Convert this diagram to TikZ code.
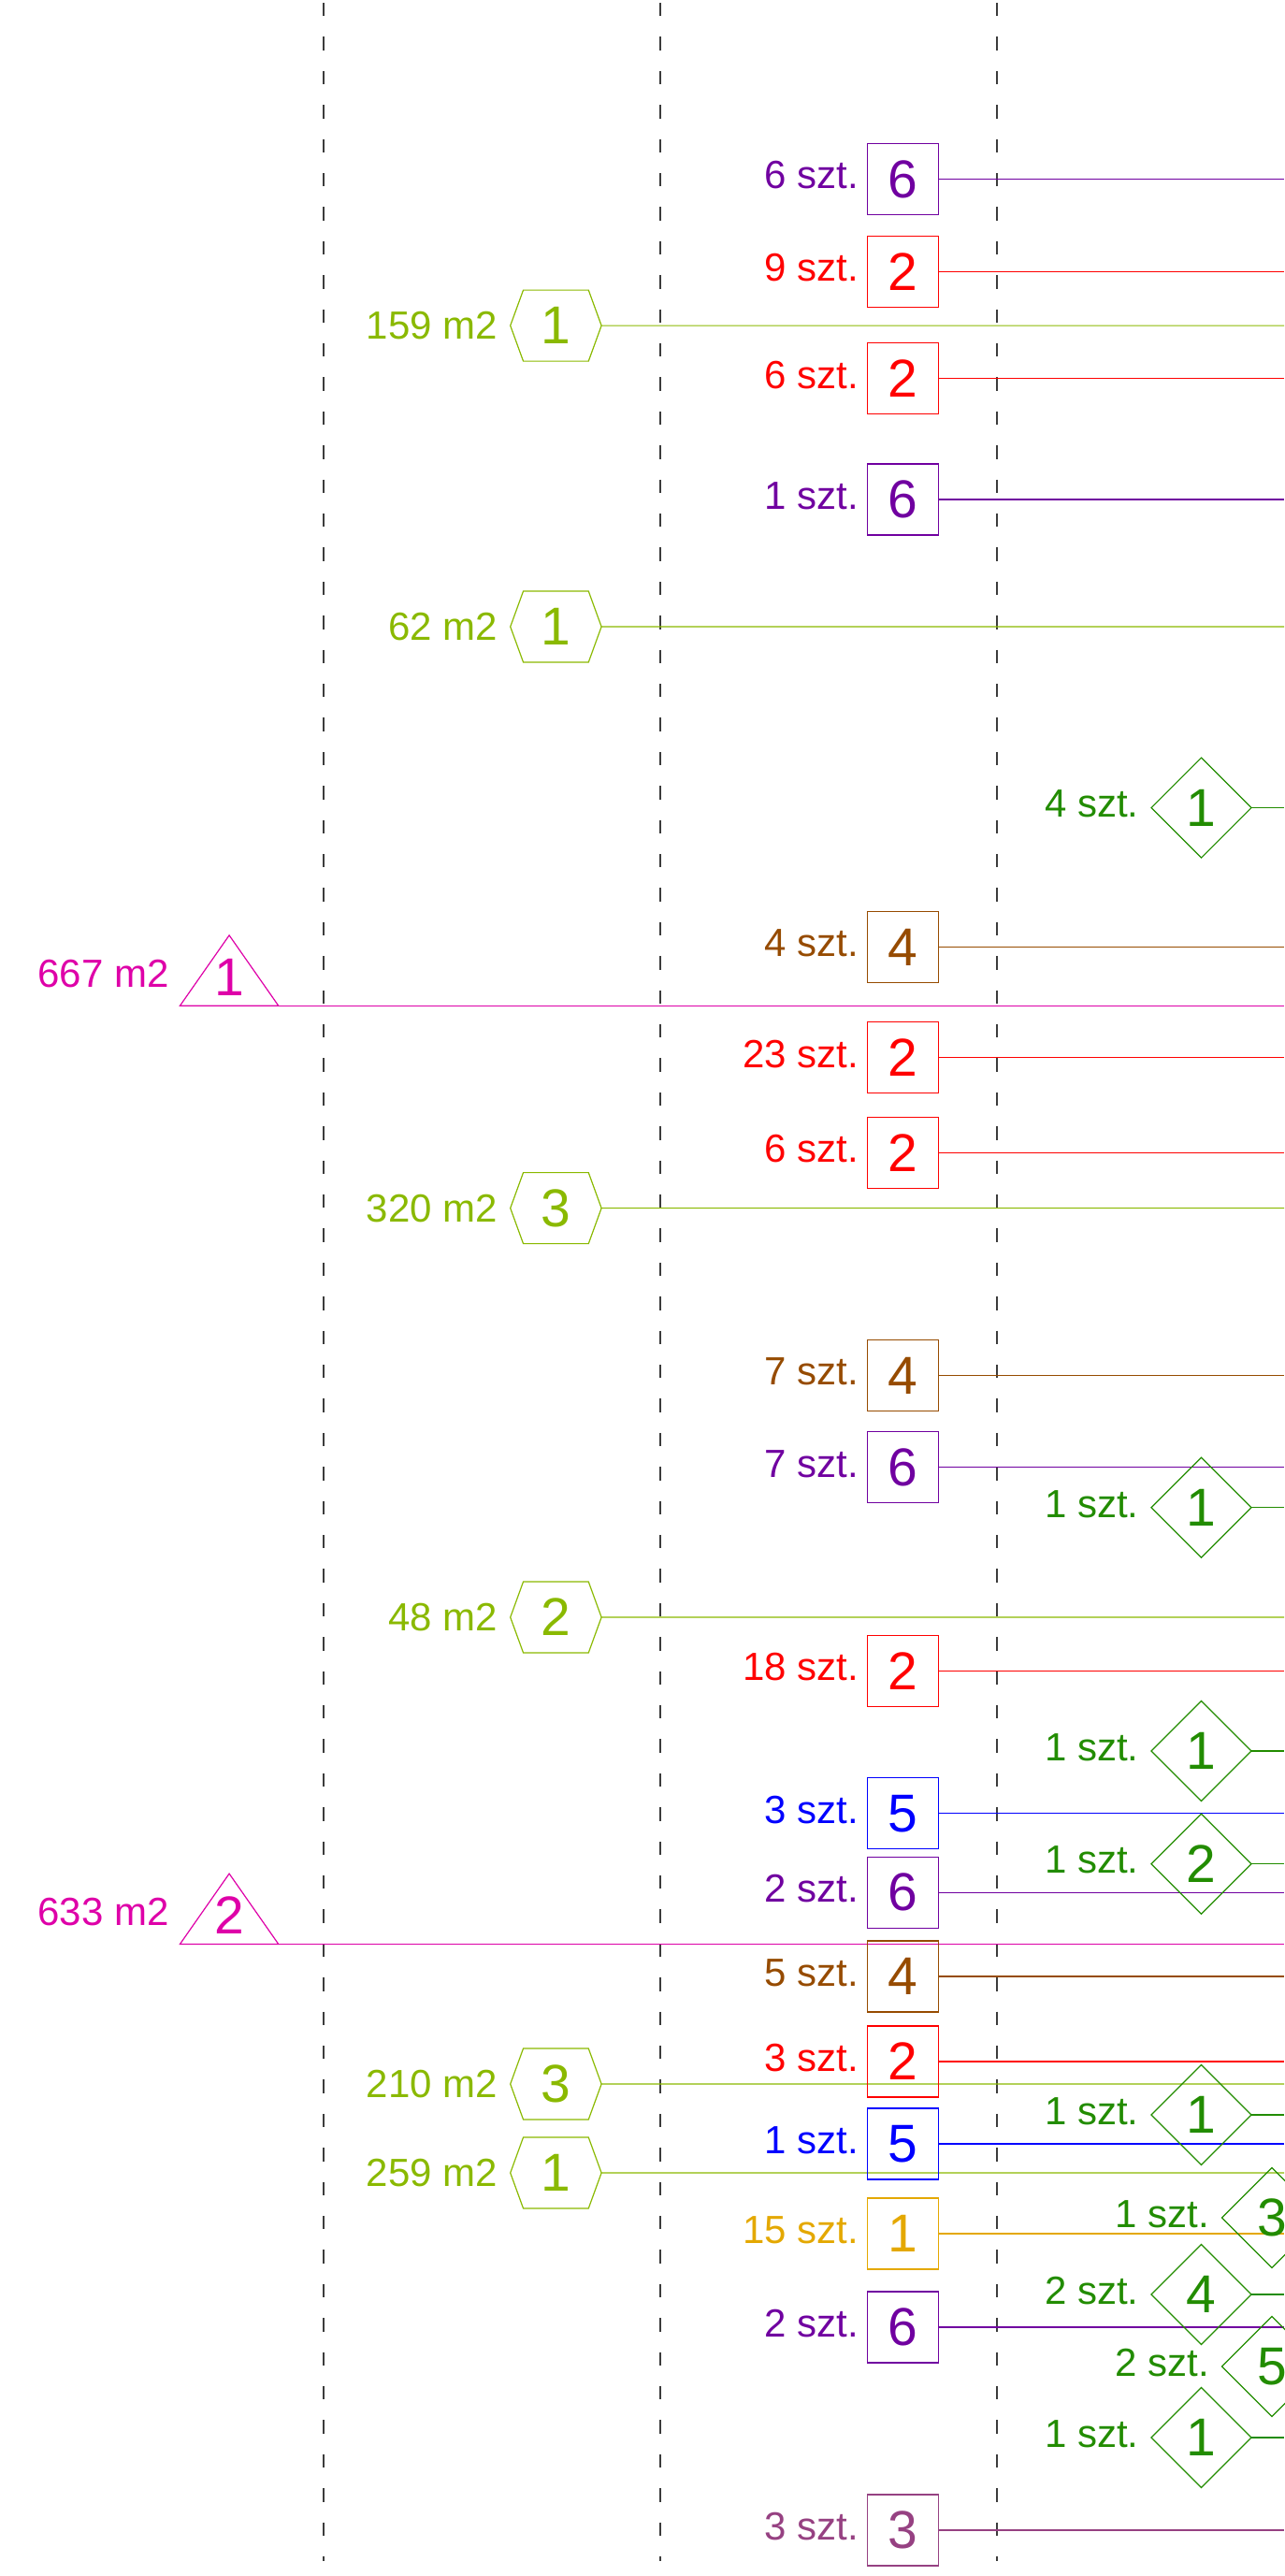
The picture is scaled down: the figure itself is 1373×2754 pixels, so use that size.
\documentclass[tikz,border=0pt]{standalone}
\usepackage{fontspec}
\setmainfont{Liberation Sans}
\usetikzlibrary{positioning,shapes.geometric,shapes.symbols}

\definecolor{cPurple}{RGB}{112,0,160}
\definecolor{cRed}{RGB}{255,0,0}
\definecolor{cBrown}{RGB}{150,75,0}
\definecolor{cBlue}{RGB}{0,0,255}
\definecolor{cGold}{RGB}{228,168,0}
\definecolor{cMauve}{RGB}{150,65,130}
\definecolor{cLime}{RGB}{138,185,0}
\definecolor{cGreen}{RGB}{34,140,0}
\definecolor{cMagenta}{RGB}{222,0,168}
\definecolor{cDash}{RGB}{60,60,60}

\newcommand\labfont{\fontsize{42}{48}\selectfont}
\newcommand\digfont{\fontsize{57}{64}\selectfont}

\begin{document}
\begin{tikzpicture}[x=1pt,y=-1pt,
    every node/.style={inner sep=0pt,outer sep=0pt},
    sym/.style={line width=1.2pt,font=\digfont},
    box/.style={sym,draw,minimum size=76pt},
    hexa/.style={sym,draw,signal,signal to=west and east,signal pointer angle=140,
                 minimum width=97.4pt,minimum height=76pt},
    dia/.style={sym,draw,diamond,aspect=1,minimum width=107pt,minimum height=107pt},
    tri/.style={sym,minimum width=105.4pt,minimum height=75.4pt,text height=54pt,text depth=0pt},
    szt/.style={font=\labfont,yshift=4pt},
    msq/.style={font=\labfont},
    link/.style={line width=1.2pt},
    dashline/.style={cDash,line width=1.7pt,dash pattern=on 14.3pt off 22.1pt}]
    \useasboundingbox (0,0) rectangle (1373,2754);

    % guide lines
    \draw[dashline] (346,3) -- (346,2738);
    \draw[dashline] (706,3) -- (706,2738);
    \draw[dashline] (1066,3) -- (1066,2738);
    \coordinate (edge) at (1373,0);

    %% triangles
    \node[tri,cMagenta] (t1) at (245.1,1037.6) {1};
    \node[msq,cMagenta,left=11.8pt of t1,yshift=-3pt] (m1) {667 m2};
    \draw[link,cMagenta] (t1.south west) -- (t1.north) -- (t1.south east) -- cycle;
    \draw[link,cMagenta] (t1.south east) -- (t1.south east -| edge);

    \node[tri,cMagenta] (t2) at (245.1,2040.8) {2};
    \node[msq,cMagenta,left=11.8pt of t2,yshift=-3pt] (m2) {633 m2};
    \draw[link,cMagenta] (t2.south west) -- (t2.north) -- (t2.south east) -- cycle;
    \draw[link,cMagenta] (t2.south east) -- (t2.south east -| edge);

    %% hexagons
    \node[hexa,cLime] (h1) at (594.4,348.1) {1};
    \node[msq,cLime,left=13.7pt of h1] (a1) {159 m2};
    \draw[link,cLime] (h1) -- (h1 -| edge);

    \node[hexa,cLime] (h2) at (594.4,670) {1};
    \node[msq,cLime,left=13.7pt of h2] (a2) {62 m2};
    \draw[link,cLime] (h2) -- (h2 -| edge);

    \node[hexa,cLime] (h3) at (594.4,1291.6) {3};
    \node[msq,cLime,left=13.7pt of h3] (a3) {320 m2};
    \draw[link,cLime] (h3) -- (h3 -| edge);

    \node[hexa,cLime] (h4) at (594.4,1729) {2};
    \node[msq,cLime,left=13.7pt of h4] (a4) {48 m2};
    \draw[link,cLime] (h4) -- (h4 -| edge);

    \node[hexa,cLime] (h5) at (594.4,2228) {3};
    \node[msq,cLime,left=13.7pt of h5] (a5) {210 m2};
    \draw[link,cLime] (h5) -- (h5 -| edge);

    \node[hexa,cLime] (h6) at (594.4,2323) {1};
    \node[msq,cLime,left=13.7pt of h6] (a6) {259 m2};
    \draw[link,cLime] (h6) -- (h6 -| edge);

    %% boxes
    \node[box,cPurple] (b1) at (965.6,191.4) {6};
    \node[szt,cPurple,left=9.3pt of b1] (q1) {6 szt.};
    \draw[link,cPurple] (b1) -- (b1 -| edge);

    \node[box,cRed] (b2) at (965.6,290.5) {2};
    \node[szt,cRed,left=9.3pt of b2] (q2) {9 szt.};
    \draw[link,cRed] (b2) -- (b2 -| edge);

    \node[box,cRed] (b3) at (965.6,404.6) {2};
    \node[szt,cRed,left=9.3pt of b3] (q3) {6 szt.};
    \draw[link,cRed] (b3) -- (b3 -| edge);

    \node[box,cPurple] (b4) at (965.6,534) {6};
    \node[szt,cPurple,left=9.3pt of b4] (q4) {1 szt.};
    \draw[link,cPurple] (b4) -- (b4 -| edge);

    \node[box,cBrown] (b5) at (965.6,1012.5) {4};
    \node[szt,cBrown,left=9.3pt of b5] (q5) {4 szt.};
    \draw[link,cBrown] (b5) -- (b5 -| edge);

    \node[box,cRed] (b6) at (965.6,1130.6) {2};
    \node[szt,cRed,left=9.3pt of b6] (q6) {23 szt.};
    \draw[link,cRed] (b6) -- (b6 -| edge);

    \node[box,cRed] (b7) at (965.6,1232.2) {2};
    \node[szt,cRed,left=9.3pt of b7] (q7) {6 szt.};
    \draw[link,cRed] (b7) -- (b7 -| edge);

    \node[box,cBrown] (b8) at (965.6,1470.5) {4};
    \node[szt,cBrown,left=9.3pt of b8] (q8) {7 szt.};
    \draw[link,cBrown] (b8) -- (b8 -| edge);

    \node[box,cPurple] (b9) at (965.6,1568.8) {6};
    \node[szt,cPurple,left=9.3pt of b9] (q9) {7 szt.};
    \draw[link,cPurple] (b9) -- (b9 -| edge);

    \node[box,cRed] (b10) at (965.6,1786.2) {2};
    \node[szt,cRed,left=9.3pt of b10] (q10) {18 szt.};
    \draw[link,cRed] (b10) -- (b10 -| edge);

    \node[box,cBlue] (b11) at (965.6,1938.7) {5};
    \node[szt,cBlue,left=9.3pt of b11] (q11) {3 szt.};
    \draw[link,cBlue] (b11) -- (b11 -| edge);

    \node[box,cPurple] (b12) at (965.6,2023.3) {6};
    \node[szt,cPurple,left=9.3pt of b12] (q12) {2 szt.};
    \draw[link,cPurple] (b12) -- (b12 -| edge);

    \node[box,cBrown] (b13) at (965.6,2113) {4};
    \node[szt,cBrown,left=9.3pt of b13] (q13) {5 szt.};
    \draw[link,cBrown] (b13) -- (b13 -| edge);

    \node[box,cRed] (b14) at (965.6,2204) {2};
    \node[szt,cRed,left=9.3pt of b14] (q14) {3 szt.};
    \draw[link,cRed] (b14) -- (b14 -| edge);

    \node[box,cBlue] (b15) at (965.6,2292) {5};
    \node[szt,cBlue,left=9.3pt of b15] (q15) {1 szt.};
    \draw[link,cBlue] (b15) -- (b15 -| edge);

    \node[box,cGold] (b16) at (965.6,2388) {1};
    \node[szt,cGold,left=9.3pt of b16] (q16) {15 szt.};
    \draw[link,cGold] (b16) -- (b16 -| edge);

    \node[box,cPurple] (b17) at (965.6,2488) {6};
    \node[szt,cPurple,left=9.3pt of b17] (q17) {2 szt.};
    \draw[link,cPurple] (b17) -- (b17 -| edge);

    \node[box,cMauve] (b18) at (965.6,2705) {3};
    \node[szt,cMauve,left=9.3pt of b18] (q18) {3 szt.};
    \draw[link,cMauve] (b18) -- (b18 -| edge);

    %% diamonds
    \node[dia,cGreen] (d1) at (1284.5,863.6) {1};
    \node[szt,cGreen,left=13.5pt of d1] (p1) {4 szt.};
    \draw[link,cGreen] (d1) -- (d1 -| edge);

    \node[dia,cGreen] (d2) at (1284.5,1611.8) {1};
    \node[szt,cGreen,left=13.5pt of d2] (p2) {1 szt.};
    \draw[link,cGreen] (d2) -- (d2 -| edge);

    \node[dia,cGreen] (d3) at (1284.5,1872) {1};
    \node[szt,cGreen,left=13.5pt of d3] (p3) {1 szt.};
    \draw[link,cGreen] (d3) -- (d3 -| edge);

    \node[dia,cGreen] (d4) at (1284.5,1992.7) {2};
    \node[szt,cGreen,left=13.5pt of d4] (p4) {1 szt.};
    \draw[link,cGreen] (d4) -- (d4 -| edge);

    \node[dia,cGreen] (d5) at (1284.5,2261) {1};
    \node[szt,cGreen,left=13.5pt of d5] (p5) {1 szt.};
    \draw[link,cGreen] (d5) -- (d5 -| edge);

    \node[dia,cGreen] (d6) at (1360,2371) {3};
    \node[szt,cGreen,left=13.5pt of d6] (p6) {1 szt.};

    \node[dia,cGreen] (d7) at (1284.5,2453) {4};
    \node[szt,cGreen,left=13.5pt of d7] (p7) {2 szt.};
    \draw[link,cGreen] (d7) -- (d7 -| edge);

    \node[dia,cGreen] (d8) at (1360,2530) {5};
    \node[szt,cGreen,left=13.5pt of d8] (p8) {2 szt.};

    \node[dia,cGreen] (d9) at (1284.5,2606) {1};
    \node[szt,cGreen,left=13.5pt of d9] (p9) {1 szt.};
    \draw[link,cGreen] (d9) -- (d9 -| edge);
\end{tikzpicture}
\end{document}
